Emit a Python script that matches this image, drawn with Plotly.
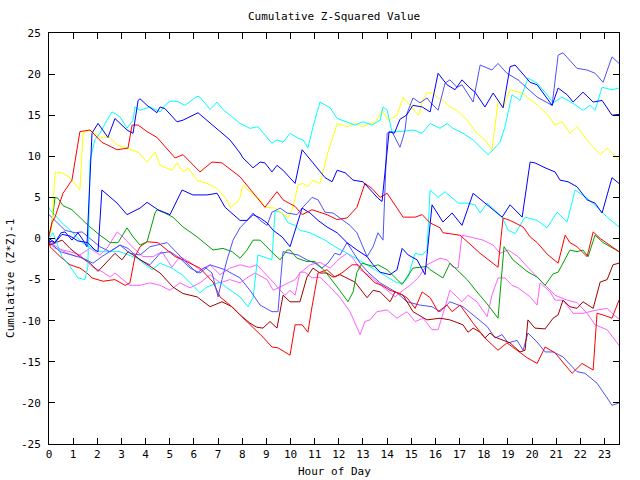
import plotly.graph_objects as go

# ---- data: (hour, cumulative (Z*Z)-1) pairs per series ----
red1 = [[0,0.3],[0.12,1.9],[0.25,2.6],[0.58,5.5],[0.95,7.1],[1.16,10.8],[1.28,13.0],[1.70,13.2],[2.19,11.7],[2.82,10.8],
        [3.27,11.0],[3.44,13.8],[3.69,13.8],[4.06,13.0],[4.47,12.3],[5.22,9.8],[5.55,10.2],[6.25,8.1],[6.75,9.3],[7.16,9.2],
        [7.91,7.5],[8.94,3.8],[9.44,5.7],[9.69,4.7],[10.19,3.9],[10.48,2.9],[10.89,3.5],[11.51,2.9],[11.93,2.3],[12.34,2.5],
        [12.75,3.8],[13.08,6.7],[13.37,6.1],[13.71,5.0],[14.0,5.5],[14.66,2.6],[15.16,2.6],[15.45,2.9],[15.78,1.9],[16.19,1.3],
        [16.31,0.7],[17.02,0.4],[17.85,-1.8],[18.59,-3.5],[18.8,2.5],[19.09,2.2],[19.63,1.4],[19.92,0.2],[20.21,-0.5],[20.66,-2.0],
        [21.08,-3.0],[21.37,0.4],[21.57,-0.5],[21.86,-1.0],[22.28,-2.2],[22.53,0.8],[22.82,0.0],[23.6,-1.6]]

blue1 = [[0,-0.3],[0.25,-0.5],[0.5,0.7],[0.66,0.8],[0.95,-0.2],[1.2,0.7],[1.41,-0.2],[1.57,-1.0],[1.78,12.8],[2.03,14.0],
         [2.44,12.3],[2.73,14.6],[3.23,13.2],[3.48,12.8],[3.69,16.8],[3.77,17.0],[4.06,16.2],[4.47,15.3],[4.6,16.0],[4.8,15.8],
         [5.3,14.2],[5.55,14.4],[6.17,15.3],[6.79,13.8],[7.49,12.0],[7.91,10.4],[8.03,9.8],[8.45,8.6],[8.74,9.3],[8.94,9.2],
         [9.23,8.1],[9.44,8.9],[9.69,8.3],[10.19,6.7],[10.48,10.8],[10.93,9.2],[11.43,7.4],[11.72,6.9],[11.93,8.3],[12.26,8.0],
         [12.59,7.1],[13.0,6.9],[13.62,4.9],[13.79,4.5],[14.08,13.0],[14.3,12.8],[14.53,14.5],[14.8,15.0],[15.07,16.2],[15.45,16.0],
         [15.78,15.4],[16.11,20.1],[16.48,18.7],[16.81,18.1],[17.1,19.3],[17.43,18.3],[17.64,17.8],[18.05,16.0],[18.39,17.7],[18.8,15.9],
         [19.09,20.9],[19.3,21.1],[19.92,19.0],[20.21,18.7],[20.83,16.2],[21.08,18.3],[21.45,17.5],[21.7,16.6],[22.11,17.8],[22.53,16.6],
         [22.9,16.8],[23.31,15.0],[23.6,15.1]]

slate1 = [[0,0.0],[0.04,-0.5],[0.46,-1.6],[0.99,-2.0],[1.41,-2.4],[1.82,-3.0],[2.19,-2.2],[2.94,-0.8],[3.35,-1.8],[3.77,-2.0],
          [4.18,-1.0],[4.89,-0.5],[5.3,-1.8],[5.71,-3.0],[6.13,-4.2],[6.46,-3.5],[6.75,-4.2],[7.0,-7.1],[7.16,-5.0],[7.37,-2.6],
          [7.62,-0.2],[7.91,1.3],[8.2,2.2],[8.45,3.1],[8.74,2.2],[9.03,1.6],[9.23,3.2],[9.57,3.7],[9.86,3.1],[10.27,2.9],
          [10.48,3.7],[10.89,5.0],[11.14,4.7],[11.43,3.2],[11.76,3.1],[12.05,2.5],[12.46,1.6],[12.75,0.7],[13.17,-2.2],[13.42,-1.0],
          [13.62,0.7],[13.83,-0.2],[14.0,12.8],[14.2,13.0],[14.33,12.2],[14.53,11.1],[14.66,12.3],[14.74,13.2],[14.82,15.2],[15.07,17.1],
          [15.36,16.5],[15.65,17.1],[15.78,16.6],[16.11,15.6],[16.4,18.9],[16.6,19.3],[16.89,18.4],[17.1,18.7],[17.56,16.6],[17.85,21.1],
          [18.34,20.5],[18.59,21.3],[18.96,20.1],[19.42,19.3],[19.79,18.3],[20.21,17.2],[20.83,16.2],[21.08,22.3],[21.28,22.6],[21.86,20.7],
          [22.28,20.5],[22.61,20.1],[22.94,19.0],[23.31,22.1],[23.6,21.3]]

blue2 = [[0,0.0],[0.25,-0.5],[0.54,0.5],[0.87,0.3],[1.2,-0.3],[1.61,-0.5],[1.9,-1.4],[2.03,-1.6],[2.19,5.9],[2.82,4.3],
         [3.23,2.9],[3.77,3.7],[4.06,4.4],[4.51,3.5],[5.01,2.9],[5.51,5.9],[5.96,5.3],[6.54,5.3],[6.96,5.5],[7.29,3.8],
         [7.91,2.2],[8.2,2.2],[8.45,2.9],[8.74,2.5],[9.03,1.9],[9.28,1.0],[9.65,0.2],[9.98,-1.0],[10.48,3.7],[10.81,3.1],
         [11.14,2.2],[11.51,1.4],[11.93,0.7],[12.34,-0.5],[12.75,-1.4],[13.17,-2.2],[13.42,-3.2],[13.71,-4.1],[14.12,-4.4],[14.41,-3.8],
         [14.62,-1.2],[14.87,-2.0],[15.24,-2.6],[15.57,-4.4],[15.86,4.1],[16.31,2.0],[16.69,3.1],[17.1,1.6],[17.56,5.5],[18.05,4.3],
         [18.34,3.7],[18.76,2.6],[19.09,4.1],[19.59,2.6],[19.92,9.3],[20.12,9.2],[20.54,8.6],[20.95,8.1],[21.16,7.1],[21.49,6.9],
         [21.86,6.3],[22.28,4.7],[22.61,4.3],[22.9,3.1],[23.31,7.4],[23.6,6.7]]

slate2 = [[0,2.9],[0.37,1.9],[0.66,1.0],[1.08,0.7],[1.37,0.8],[1.78,-0.2],[2.11,-1.0],[2.53,-1.6],[2.94,-0.8],[3.27,-1.2],
          [3.77,-2.6],[4.18,-3.2],[4.6,-1.8],[5.01,-1.6],[5.42,-2.4],[5.84,-3.6],[6.25,-4.2],[6.67,-3.2],[7.29,-3.8],[7.91,-4.8],
          [8.32,-6.3],[8.74,-8.1],[9.23,-8.9],[9.48,-8.9],[9.69,-1.6],[9.98,-1.8],[10.31,-2.0],[10.68,-2.6],[11.01,-3.0],[11.3,-3.6],
          [11.55,-3.0],[11.84,-1.8],[12.05,-2.0],[12.34,-0.5],[12.88,-3.0],[13.21,-4.1],[13.71,-5.4],[14.41,-6.6],[14.82,-7.7],[15.36,-8.1],
          [15.86,-8.3],[16.19,-8.9],[16.6,-7.7],[17.14,-8.3],[17.64,-9.5],[18.14,-10.7],[18.47,-12.1],[18.76,-11.7],[19.01,-12.7],[19.38,-12.4],
          [19.63,-13.6],[19.83,-11.5],[20.21,-12.6],[20.54,-13.8],[20.87,-13.8],[21.28,-14.4],[21.66,-15.6],[21.86,-16.2],[22.19,-16.4],[22.69,-17.6],
          [23.11,-19.4],[23.31,-20.3],[23.6,-20.0]]

cyan1 = [[0,0.0],[0.16,0.7],[0.54,-2.2],[0.87,-3.4],[1.2,-4.8],[1.49,-5.0],[1.61,-3.4],[1.70,9.5],[1.9,12.0],[2.11,12.8],
         [2.4,14.4],[2.61,15.4],[2.94,14.8],[3.23,13.4],[3.48,14.4],[3.56,16.0],[3.77,15.6],[4.18,16.0],[4.6,15.4],[4.8,16.2],
         [5.01,16.7],[5.3,16.7],[5.63,16.2],[6.13,17.3],[6.25,17.2],[6.67,15.7],[6.96,16.6],[7.2,15.7],[7.58,14.8],[7.91,14.0],
         [8.32,13.4],[8.65,13.6],[9.23,11.6],[9.44,12.0],[9.69,11.7],[9.98,12.8],[10.31,12.2],[10.52,12.0],[10.72,11.0],[10.93,13.6],
         [11.22,16.6],[11.64,15.9],[11.93,14.6],[12.26,14.2],[12.67,13.8],[13.0,14.2],[13.37,13.8],[13.71,14.4],[13.83,16.0],[14.0,15.6],
         [14.2,13.0],[14.53,13.0],[15.07,13.2],[15.45,12.8],[15.78,14.0],[16.19,13.4],[16.48,14.0],[16.73,13.4],[17.14,12.8],[17.56,12.0],
         [17.97,10.8],[18.18,10.2],[18.39,10.8],[18.67,11.7],[18.88,13.6],[19.17,17.5],[19.5,16.8],[19.83,19.5],[20.21,18.9],[20.62,17.5],
         [20.87,16.5],[21.24,17.2],[21.66,16.5],[22.11,15.6],[22.4,16.2],[22.61,15.6],[22.9,18.4],[23.31,18.1],[23.6,18.3]]

cyan2 = [[0,3.8],[0.04,3.5],[0.54,1.9],[0.95,0.8],[1.37,-0.5],[1.78,-1.2],[2.03,-1.6],[2.4,-1.6],[2.94,-1.6],[3.64,-2.4],
         [4.27,-3.8],[4.6,-3.0],[5.09,-3.6],[5.55,-4.5],[6.25,-6.6],[6.54,-5.9],[7.08,-5.3],[7.37,-6.0],[7.91,-7.1],[8.24,-8.3],
         [8.45,-7.2],[8.65,-2.0],[8.86,-2.2],[9.23,-2.6],[9.36,3.4],[9.65,3.1],[9.9,1.9],[10.19,1.6],[10.39,1.0],[10.81,0.7],
         [11.43,-0.2],[11.84,-1.0],[12.59,-2.2],[13.29,-3.4],[13.71,-4.2],[14.41,-5.4],[14.66,-5.4],[14.87,-4.7],[15.07,-2.6],[15.16,-1.8],
         [15.45,-2.0],[15.65,-1.4],[15.78,5.9],[16.11,5.0],[16.4,5.7],[16.94,4.3],[17.31,4.3],[17.64,4.1],[17.85,3.1],[18.14,4.3],
         [18.76,2.6],[19.01,1.0],[19.3,0.6],[19.71,2.6],[20.21,2.2],[20.62,1.3],[21.04,3.2],[21.45,2.0],[21.78,5.9],[22.28,4.9],
         [22.69,3.8],[23.11,2.6],[23.6,1.4]]

yellow = [[0,0.3],[0.12,1.4],[0.25,8.1],[0.54,8.0],[0.87,7.4],[1.28,5.9],[1.41,12.8],[1.70,13.2],[2.11,12.3],[2.53,12.3],
          [2.82,11.4],[3.23,11.0],[3.69,10.5],[4.06,9.3],[4.39,10.5],[4.6,8.9],[5.09,8.3],[5.3,9.2],[5.55,8.1],[5.76,8.6],
          [6.13,7.1],[6.54,6.7],[6.96,6.1],[7.37,4.7],[7.49,3.8],[7.78,4.4],[7.91,5.0],[8.03,6.5],[8.24,5.9],[8.74,4.7],
          [8.94,3.8],[9.36,3.7],[9.65,3.1],[9.9,2.5],[10.1,3.8],[10.31,6.5],[10.52,6.7],[10.72,6.3],[10.93,7.1],[11.22,6.7],
          [11.55,10.5],[11.93,14.0],[12.34,13.6],[12.67,14.0],[13.0,13.6],[13.29,14.0],[13.5,14.1],[13.79,15.6],[14.04,14.4],[14.41,15.0],
          [14.66,17.2],[14.82,16.6],[15.03,15.9],[15.3,15.0],[15.5,17.0],[15.65,17.7],[15.9,17.7],[16.11,17.1],[16.31,16.8],[16.6,16.0],
          [16.89,15.6],[17.31,14.4],[17.72,12.8],[18.05,12.0],[18.34,10.8],[18.59,16.6],[18.8,15.9],[19.09,18.1],[19.59,17.7],[19.83,17.1],
          [20.25,16.2],[20.66,15.0],[20.95,13.8],[21.24,14.2],[21.57,12.8],[21.86,13.6],[22.28,12.0],[22.82,10.2],[23.11,11.0],[23.6,9.5]]

green = [[0,0.2],[0.12,1.9],[0.25,5.0],[0.37,4.9],[0.58,4.0],[0.95,3.5],[1.41,2.2],[1.70,1.4],[2.11,0.4],[2.53,-0.5],
         [2.86,-0.5],[3.23,1.3],[3.48,0.2],[3.77,-0.8],[4.06,-0.4],[4.39,3.1],[4.47,3.5],[4.8,3.1],[5.13,2.6],[5.55,1.4],
         [6.13,0.2],[6.54,-0.8],[6.79,-1.4],[7.2,-1.2],[7.58,-1.6],[7.91,-2.4],[8.2,-1.4],[8.45,-0.2],[8.74,-0.2],[9.28,-1.8],
         [9.57,-2.6],[9.86,-1.4],[9.98,-1.4],[10.27,-2.4],[10.68,-2.8],[11.01,-2.8],[11.43,-4.0],[11.93,-5.9],[12.38,-7.7],[12.59,-6.5],
         [12.75,-4.1],[12.96,-3.0],[13.42,-3.4],[13.62,-3.2],[14.0,-3.8],[14.62,-5.6],[14.82,-4.7],[15.07,-3.6],[15.65,-3.4],[15.78,-3.8],
         [16.31,-4.8],[16.6,-3.0],[16.89,-3.8],[17.31,-5.0],[17.72,-6.5],[18.18,-8.1],[18.59,-9.7],[18.84,-1.0],[19.21,-2.6],[19.79,-4.0],
         [20.21,-4.7],[20.54,-5.7],[20.87,-4.3],[21.08,-4.1],[21.57,-1.4],[21.86,-1.6],[22.11,-1.4],[22.32,-2.2],[22.61,0.4],[22.94,-0.5],
         [23.6,-1.6]]

darkred = [[0,-0.3],[0.04,-0.8],[0.54,-0.2],[0.87,-1.2],[1.28,-2.2],[1.70,-3.0],[2.03,-4.0],[2.4,-2.8],[2.73,-1.8],[3.02,-2.6],
           [3.27,-1.6],[3.69,-2.4],[4.18,-3.4],[4.6,-4.2],[5.13,-5.9],[5.55,-6.7],[6.13,-7.1],[6.67,-8.3],[7.16,-7.7],[7.58,-8.3],
           [7.91,-9.3],[8.32,-10.3],[8.61,-10.8],[8.86,-10.9],[9.15,-10.1],[9.44,-10.9],[9.69,-6.9],[9.98,-7.7],[10.39,-7.7],[10.68,-4.7],
           [10.93,-3.6],[11.22,-4.2],[11.51,-4.2],[11.76,-4.7],[12.05,-4.4],[12.34,-4.8],[12.67,-5.3],[13.17,-7.2],[13.42,-6.3],[13.71,-6.5],
           [14.12,-7.7],[14.33,-6.5],[14.66,-6.9],[15.07,-8.9],[15.65,-9.9],[16.19,-9.7],[16.6,-9.9],[17.14,-10.5],[17.35,-11.4],[17.56,-10.9],
           [17.85,-11.4],[18.05,-12.1],[18.26,-11.5],[18.47,-12.0],[19.09,-12.7],[19.5,-13.8],[19.71,-13.6],[19.83,-9.9],[20.12,-10.9],[20.54,-11.0],
           [20.87,-9.7],[21.08,-9.3],[21.28,-7.5],[21.57,-8.3],[21.86,-8.5],[22.11,-7.7],[22.53,-8.5],[22.82,-5.3],[23.11,-5.0],[23.35,-3.2],
           [23.6,-3.0]]

red2 = [[0,-0.3],[0.04,-1.0],[0.46,-2.2],[0.87,-3.2],[1.28,-3.6],[1.57,-4.2],[1.78,-4.8],[2.24,-5.2],[2.73,-5.0],[3.15,-5.7],
        [3.35,-5.4],[3.56,-2.2],[3.77,-1.0],[4.06,-0.4],[4.51,-0.5],[4.89,-1.4],[5.22,-2.2],[5.55,-2.6],[6.25,-3.6],[6.79,-5.3],
        [7.08,-7.1],[7.49,-8.1],[7.91,-9.3],[8.45,-10.8],[8.86,-12.0],[9.23,-13.2],[9.48,-13.3],[9.98,-14.2],[10.19,-10.5],[10.48,-10.5],
        [10.72,-11.4],[10.89,-8.3],[11.14,-4.2],[11.51,-3.8],[11.84,-4.7],[12.17,-4.1],[12.55,-3.2],[12.8,-3.2],[13.08,-4.2],[13.5,-5.4],
        [13.79,-5.7],[14.12,-6.3],[14.53,-6.7],[14.82,-7.2],[15.16,-8.5],[15.45,-6.5],[15.78,-7.2],[16.11,-8.9],[16.48,-8.1],[16.69,-8.9],
        [17.02,-8.1],[17.56,-10.3],[18.05,-12.1],[18.59,-13.6],[18.96,-12.7],[19.38,-13.6],[19.79,-14.5],[20.21,-15.2],[20.54,-13.2],[20.95,-13.9],
        [21.37,-15.4],[21.66,-16.4],[22.07,-15.2],[22.53,-16.0],[22.69,-9.1],[22.94,-9.3],[23.31,-9.7],[23.6,-7.5]]

magenta2 = [[0,-0.3],[0.04,-0.5],[0.75,-1.8],[1.16,-2.2],[1.70,-1.2],[2.11,-2.0],[2.4,-1.2],[2.82,0.8],[3.06,0.2],[3.44,-1.0],
            [3.89,-2.2],[4.31,-2.2],[4.68,-1.6],[5.09,-3.5],[5.42,-2.2],[5.84,-2.9],[6.25,-3.8],[6.67,-3.2],[7.08,-4.4],[7.49,-3.6],
            [7.91,-3.2],[8.32,-3.5],[8.61,-3.2],[8.94,-4.2],[9.28,-5.3],[9.48,-6.0],[9.77,-6.9],[9.98,-6.3],[10.19,-6.9],[10.39,-4.1],
            [10.6,-4.1],[10.89,-4.8],[11.22,-4.7],[11.64,-5.9],[12.05,-7.2],[12.46,-8.9],[12.88,-11.7],[13.08,-10.1],[13.29,-9.9],[13.58,-8.9],
            [14.0,-8.7],[14.41,-9.7],[14.82,-8.9],[15.16,-10.1],[15.49,-9.7],[15.86,-11.1],[16.11,-11.1],[16.4,-8.3],[16.6,-6.3],[16.89,-7.1],
            [17.1,-7.7],[17.35,-6.9],[17.72,-7.7],[18.14,-9.5],[18.34,-6.9],[18.59,-4.8],[18.88,-4.8],[19.17,-5.7],[19.42,-6.0],[19.92,-7.1],
            [20.21,-8.1],[20.33,-5.4],[20.75,-6.5],[20.95,-7.5],[21.28,-7.5],[21.7,-9.1],[22.11,-9.1],[22.69,-8.7],[23.11,-8.5],[23.31,-9.1],
            [23.6,-9.8]]

magenta1 = [[0,-0.5],[0.25,-1.2],[0.87,-1.6],[1.28,-2.0],[1.82,-3.5],[2.24,-4.1],[2.53,-4.7],[2.73,-4.2],[3.06,-5.0],[3.35,-5.7],
            [3.77,-5.7],[4.18,-5.4],[4.6,-5.7],[5.01,-6.3],[5.42,-5.4],[5.84,-6.0],[6.25,-5.4],[6.67,-4.4],[7.08,-5.4],[7.49,-5.0],
            [7.91,-5.4],[8.24,-4.7],[8.53,-4.2],[9.03,-5.0],[9.28,-6.3],[9.57,-5.9],[9.9,-5.4],[10.19,-5.0],[10.39,-4.2],[10.81,-3.2],
            [11.22,-2.9],[11.64,-3.6],[12.05,-2.4],[12.34,-1.8],[12.59,-2.4],[12.88,-3.8],[13.21,-4.4],[13.58,-5.3],[14.0,-6.3],[14.33,-7.1],
            [14.66,-6.3],[14.95,-5.7],[15.28,-4.8],[15.65,-3.2],[15.78,-3.0],[16.19,-2.4],[16.48,-2.6],[16.73,-3.5],[16.94,-3.6],[17.1,0.4],
            [17.56,0.1],[17.97,-0.2],[18.39,-0.8],[18.67,-1.8],[19.01,-1.4],[19.42,-2.2],[19.79,-3.4],[20.21,-4.7],[20.54,-5.7],[20.95,-6.9],
            [21.45,-7.5],[21.86,-7.8],[22.28,-9.1],[22.61,-10.5],[23.11,-11.1],[23.6,-13.0]]

x_ticks = list(range(0, 24))
y_ticks = [-25, -20, -15, -10, -5, 0, 5, 10, 15, 20, 25]

series = [
    (magenta1, "#ff60ff"), (magenta2, "#ff60ff"), (cyan2, "#00ffff"), (slate2, "#5050ff"),
    (darkred, "#a00000"), (red2, "#ff0000"), (green, "#00a000"), (yellow, "#ffff00"),
    (cyan1, "#00ffff"), (slate1, "#5050ff"), (blue2, "#0000ff"), (red1, "#ff0000"), (blue1, "#0000ff"),
]

fig = go.Figure()
for pts, col in series:
    fig.add_trace(go.Scatter(x=[p[0] for p in pts], y=[p[1] for p in pts], mode="lines",
                             line=dict(color=col, width=1), hoverinfo="skip"))

FONT = "DejaVu Sans Mono"
axis_common = dict(showline=True, linecolor="black", linewidth=1, mirror="ticks",
                   ticks="inside", ticklen=6, tickcolor="black", tickwidth=1,
                   showgrid=False, zeroline=False, tickfont=dict(family=FONT, size=11, color="black"))

fig.update_layout(
    width=640, height=480,
    margin=dict(l=49, r=21, t=33, b=36),
    paper_bgcolor="white", plot_bgcolor="white",
    showlegend=False,
    font=dict(family=FONT, size=11, color="black"),
    xaxis=dict(range=[0, 23.6], tickvals=x_ticks, ticktext=[str(t) for t in x_ticks], **axis_common),
    yaxis=dict(range=[-25, 25], tickvals=y_ticks, ticktext=[str(t) for t in y_ticks], ticklabelstandoff=5, **axis_common),
    annotations=[
        dict(text="Cumulative Z-Squared Value", xref="paper", yref="paper", x=0.5, y=1.041,
             showarrow=False, font=dict(family=FONT, size=11), xanchor="center", yanchor="middle"),
        dict(text="Hour of Day", xref="paper", yref="paper", x=0.5, y=-0.0657,
             showarrow=False, font=dict(family=FONT, size=11), xanchor="center", yanchor="middle"),
        dict(text="Cumulative (Z*Z)-1", xref="paper", yref="paper", x=-0.0667, y=0.404, textangle=-90,
             showarrow=False, font=dict(family=FONT, size=11), xanchor="center", yanchor="middle"),
    ],
)

# remove the page's default body margin so the figure sits at the window's top-left corner
fig.write_html("out.html", config={"displayModeBar": False},
               post_script="document.body.style.margin='0';")
